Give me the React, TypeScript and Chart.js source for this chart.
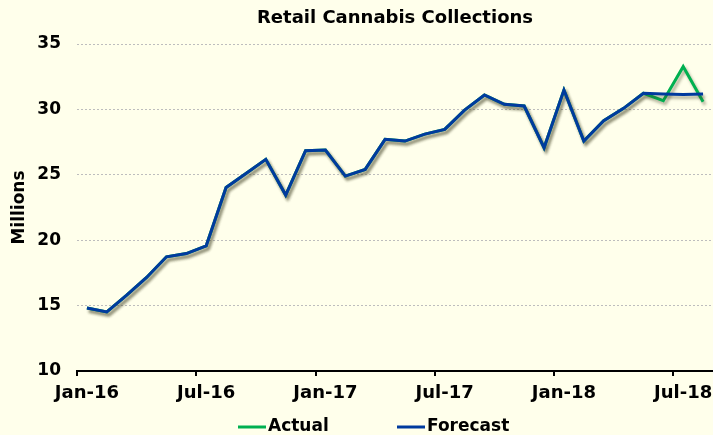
import React, { useEffect, useRef } from 'react';
import { Chart, registerables } from 'chart.js';

Chart.register(...registerables);

const months = [
  'Jan-16', 'Feb-16', 'Mar-16', 'Apr-16', 'May-16', 'Jun-16', 'Jul-16', 'Aug-16', 'Sep-16', 'Oct-16', 'Nov-16', 'Dec-16',
  'Jan-17', 'Feb-17', 'Mar-17', 'Apr-17', 'May-17', 'Jun-17', 'Jul-17', 'Aug-17', 'Sep-17', 'Oct-17', 'Nov-17', 'Dec-17',
  'Jan-18', 'Feb-18', 'Mar-18', 'Apr-18', 'May-18', 'Jun-18', 'Jul-18', 'Aug-18',
];

const actual = [
  14.82, 14.52, 15.8, 17.15, 18.73, 18.98, 19.57, 24.03, 25.1, 26.18, 23.45, 26.84,
  26.89, 24.9, 25.41, 27.71, 27.58, 28.11, 28.47, 29.95, 31.1, 30.39, 30.26, 27.07,
  31.48, 27.58, 29.13, 30.08, 31.23, 30.66, 33.27, 30.59,
];

const forecast = [
  14.82, 14.52, 15.8, 17.15, 18.73, 18.98, 19.57, 24.03, 25.1, 26.18, 23.45, 26.84,
  26.89, 24.9, 25.41, 27.71, 27.58, 28.11, 28.47, 29.95, 31.1, 30.39, 30.26, 27.07,
  31.48, 27.58, 29.13, 30.08, 31.23, 31.17, 31.13, 31.18,
];

const seriesNames = ['Actual', 'Forecast'];
const seriesColors = ['#00B050', '#003A9E'];
const labelEvery = 6;

const BG = '#FFFFEB';
const FONT = 'DejaVu Sans';

export default function App() {
  const ref = useRef<HTMLCanvasElement>(null);

  useEffect(() => {
    document.body.style.margin = '0';
    document.body.style.background = BG;

    const shadowPlugin = {
      id: 'lineShadow',
      beforeDatasetsDraw(chart: any) {
        const c = chart.ctx;
        c.save();
        c.shadowColor = 'rgba(60,60,30,0.4)';
        c.shadowBlur = 3;
        c.shadowOffsetX = 2;
        c.shadowOffsetY = 3;
      },
      afterDatasetsDraw(chart: any) {
        chart.ctx.restore();
      },
    };

    const legendPlugin = {
      id: 'customLegend',
      afterDraw(chart: any) {
        const c = chart.ctx;
        c.save();
        c.font = `bold 17px "${FONT}"`;
        c.textBaseline = 'middle';
        c.textAlign = 'left';
        const y = 427;
        let x = 238;
        chart.data.datasets.forEach((ds: any) => {
          c.strokeStyle = ds.borderColor;
          c.lineWidth = 3;
          c.beginPath();
          c.moveTo(x, y);
          c.lineTo(x + 28, y);
          c.stroke();
          c.fillStyle = '#000';
          c.fillText(ds.label, x + 30, y);
          x += 159;
        });
        c.restore();
      },
    };

    const chart = new Chart(ref.current as HTMLCanvasElement, {
      type: 'line',
      data: {
        labels: months,
        datasets: [
          {
            label: seriesNames[0],
            data: actual,
            borderColor: seriesColors[0],
            backgroundColor: seriesColors[0],
            borderWidth: 3,
            pointRadius: 0,
            tension: 0,
            order: 2,
          },
          {
            label: seriesNames[1],
            data: forecast,
            borderColor: seriesColors[1],
            backgroundColor: seriesColors[1],
            borderWidth: 3,
            pointRadius: 0,
            tension: 0,
            order: 1,
          },
        ],
      },
      options: {
        responsive: false,
        animation: false,
        layout: { padding: { top: 0, right: 0, bottom: 0, left: 0 } },
        plugins: {
          legend: { display: false },
          tooltip: { enabled: false },
          title: {
            display: true,
            text: 'Retail Cannabis Collections',
            fullSize: false,
            color: '#000',
            font: { family: FONT, size: 18, weight: 'bold' },
            padding: { top: 8, bottom: 14.4 },
          },
        },
        scales: {
          x: {
            type: 'category',
            offset: true,
            afterFit: (s: any) => {
              s.height = 64;
            },
            grid: {
              offset: true,
              drawOnChartArea: false,
              drawTicks: true,
              tickLength: 5,
              lineWidth: 2,
              color: (ctx: any) => (ctx.index % labelEvery === 0 ? '#000' : 'rgba(0,0,0,0)'),
            },
            border: { display: true, color: '#000', width: 2 },
            ticks: {
              autoSkip: false,
              maxRotation: 0,
              minRotation: 0,
              padding: 7,
              color: '#000',
              font: { family: FONT, size: 18, weight: 'bold' },
              callback: (_v: any, i: number) => (i % labelEvery === 0 ? months[i] : ''),
            },
          },
          y: {
            min: 10,
            max: 35,
            afterFit: (s: any) => {
              s.width = 77;
            },
            ticks: {
              stepSize: 5,
              padding: 16,
              color: '#000',
              font: { family: FONT, size: 17, weight: 'bold' },
            },
            grid: {
              drawTicks: false,
              color: (ctx: any) => (ctx.tick && ctx.tick.value === 10 ? 'rgba(0,0,0,0)' : '#BDBDBD'),
              lineWidth: 1,
            },
            border: { display: false, dash: [2, 2] },
            title: {
              display: true,
              text: 'Millions',
              color: '#000',
              font: { family: FONT, size: 17, weight: 'bold' },
              padding: { top: 9, bottom: 2 },
            },
          },
        },
      },
      plugins: [shadowPlugin, legendPlugin],
    });

    return () => chart.destroy();
  }, []);

  return (
    <div style={{ width: 713, height: 435, background: BG }}>
      <canvas ref={ref} width={713} height={435} style={{ display: 'block' }} />
    </div>
  );
}
